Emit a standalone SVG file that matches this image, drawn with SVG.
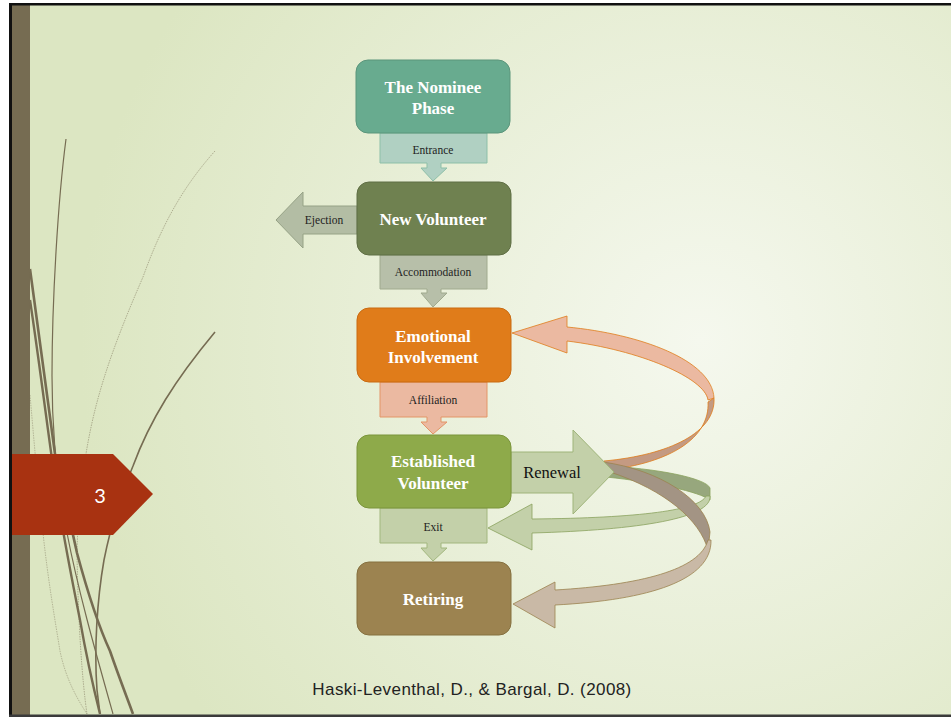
<svg xmlns="http://www.w3.org/2000/svg" width="951" height="717" viewBox="0 0 951 717">
<defs>
<radialGradient id="bg" cx="700" cy="340" r="620" gradientUnits="userSpaceOnUse">
<stop offset="0" stop-color="#f5f8ee"/>
<stop offset="1" stop-color="#dce6c2"/>
</radialGradient>
<style>
.node text{font-family:"Liberation Serif",serif;font-weight:bold;font-size:17px;fill:#ffffff;text-anchor:middle}
.lbl{font-family:"Liberation Serif",serif;font-size:11.5px;fill:#222;text-anchor:middle}
.deco{fill:none;stroke:#766c52}
</style>
</defs>
<rect x="0" y="0" width="951" height="717" fill="#ffffff"/>
<rect x="9" y="3" width="942" height="714" fill="url(#bg)"/>
<rect x="12" y="5" width="18" height="710" fill="#766c52"/>
<rect x="9" y="3" width="942" height="2.5" fill="#111"/>
<rect x="9" y="3" width="3" height="714" fill="#111"/>
<rect x="9" y="714.5" width="942" height="2.5" fill="#3a3a3a"/>

<g id="decoration">
<path class="deco" stroke-width="1.2" d="M66,139 C58,200 52,300 52,376 C52,430 56,480 67,533 C78,590 95,650 113,714"/>
<path class="deco" stroke-width="2.6" d="M30,269 C40,340 48,400 55,454 C62,490 70,520 77,553 C87,590 98,625 110,651 C120,680 128,700 133,714"/>
<path class="deco" stroke-width="2.4" d="M30,300 C42,380 50,450 58,500 C64,540 72,580 80,620 C87,660 94,690 100,714"/>
<path class="deco" stroke-width="1.6" d="M215,332 C175,380 150,420 133,466 C118,500 110,530 104,560 C97,600 94,650 97,690 L100,714"/>
<path class="deco" stroke-width="0.8" stroke-dasharray="1.5 1" opacity="0.6" d="M215,151 C180,190 160,230 143,277 C120,330 105,370 95,410 C85,450 78,500 77,553 C78,620 82,680 87,714"/>
<path class="deco" stroke-width="0.8" stroke-dasharray="1.5 1" opacity="0.5" d="M30,395 C34,440 38,490 43,533 C48,580 55,620 60,651 C66,680 78,700 87,714"/>
</g>

<g id="slide-number">
<path d="M12,454 H113 L153,494 L113,535 H12 Z" fill="#a83211"/>
<text x="100" y="503" font-family="Lato,'DejaVu Sans',sans-serif" font-size="20" fill="#ffffff" text-anchor="middle">3</text>
</g>

<g id="connectors">
<g id="ribbon-orange">
<path d="M714,398 C716,432 670,455 604,461 L607,470 C670,463 710,438 708,402 Z" fill="#c49a82" stroke="#e07c1a" stroke-width="0.8"/>
<path d="M567,327 C640,334 712,360 714,398 L708,400 C705,378 640,350 567,341 L567,353 L512,333 L567,316 Z" fill="#ebb9a1" stroke="#e07c1a" stroke-width="0.8"/>
</g>
<g id="ribbon-green">
<path d="M604,466 C655,468 706,478 710,488 L710,500 C700,492 655,482 606,477 Z" fill="#97a77d" stroke="#8aa25e" stroke-width="0.8"/>
<path d="M532,519 C640,518 700,510 706,496 L710,496 C712,518 640,530 532,533 L532,550 L488,528 L532,504 Z" fill="#c3d0a9" stroke="#8aa25e" stroke-width="0.8"/>
</g>
<g id="ribbon-brown">
<path d="M603,462 C660,470 706,500 710,532 L708,550 C700,520 665,490 610,472 Z" fill="#a39484" stroke="#9c834f" stroke-width="0.8"/>
<path d="M555,590 C640,585 700,570 708,540 L711,540 C712,580 650,600 555,605 L555,628 L513,604 L555,582 Z" fill="#c9b9a6" stroke="#9c834f" stroke-width="0.8"/>
</g>
<g id="arrow-renewal">
<path d="M511,452 H573 V430 L614,472 L573,514 V493 H511 Z" fill="#c3d0a9" stroke="#9fb47a" stroke-width="1"/>
<text x="552" y="478" font-family="'Liberation Serif',serif" font-size="16.5" fill="#111" text-anchor="middle">Renewal</text>
</g>
<g id="arrow-entrance">
<path d="M380,133 H487 V163 H441 V168 H447 L433,181 L421,168 H427 V163 H380 Z" fill="#b0d0c2" stroke="#8dbfa8" stroke-width="1"/>
<text class="lbl" x="433" y="154">Entrance</text>
</g>
<g id="arrow-ejection">
<path d="M357,206 H303 V192 L276,220 L303,248 V234 H357 Z" fill="#b3bda4" stroke="#96a286" stroke-width="1"/>
<text class="lbl" x="324" y="224">Ejection</text>
</g>
<g id="arrow-accommodation">
<path d="M380,255 H487 V289 H441 V293 H447 L433,307 L421,293 H427 V289 H380 Z" fill="#b7bfa9" stroke="#a0aa8e" stroke-width="1"/>
<text class="lbl" x="433" y="276" font-size="10.5">Accommodation</text>
</g>
<g id="arrow-affiliation">
<path d="M380,382 H487 V417 H441 V422 H447 L433,434 L421,422 H427 V417 H380 Z" fill="#ebb9a1" stroke="#e39566" stroke-width="1"/>
<text class="lbl" x="433" y="404">Affiliation</text>
</g>
<g id="arrow-exit">
<path d="M380,508 H487 V543 H441 V548 H447 L433,561 L421,548 H427 V543 H380 Z" fill="#c3d0a9" stroke="#a2b77e" stroke-width="1"/>
<text class="lbl" x="433" y="531">Exit</text>
</g>
</g>

<g id="node-nominee" class="node">
<rect x="356" y="60" width="154" height="73" rx="12" fill="#68ab8f" stroke="#5b957b"/>
<text x="433" y="93">The Nominee</text>
<text x="433" y="114">Phase</text>
</g>
<g id="node-new-volunteer" class="node">
<rect x="357" y="182" width="154" height="73" rx="12" fill="#6f8150" stroke="#5f6e44"/>
<text x="433" y="225">New Volunteer</text>
</g>
<g id="node-emotional" class="node">
<rect x="357" y="308" width="154" height="74" rx="12" fill="#e07c1a" stroke="#c96a10"/>
<text x="433" y="342">Emotional</text>
<text x="433" y="363">Involvement</text>
</g>
<g id="node-established" class="node">
<rect x="357" y="435" width="154" height="73" rx="12" fill="#8eaa4a" stroke="#7a943a"/>
<text x="433" y="467">Established</text>
<text x="433" y="489">Volunteer</text>
</g>
<g id="node-retiring" class="node">
<rect x="357" y="562" width="154" height="73" rx="12" fill="#9c8350" stroke="#85703f"/>
<text x="433" y="605">Retiring</text>
</g>

<text id="citation" x="472" y="695" font-family="'Liberation Sans',sans-serif" font-size="17" letter-spacing="0.4" fill="#222" text-anchor="middle">Haski-Leventhal, D., &amp; Bargal, D. (2008)</text>
</svg>
